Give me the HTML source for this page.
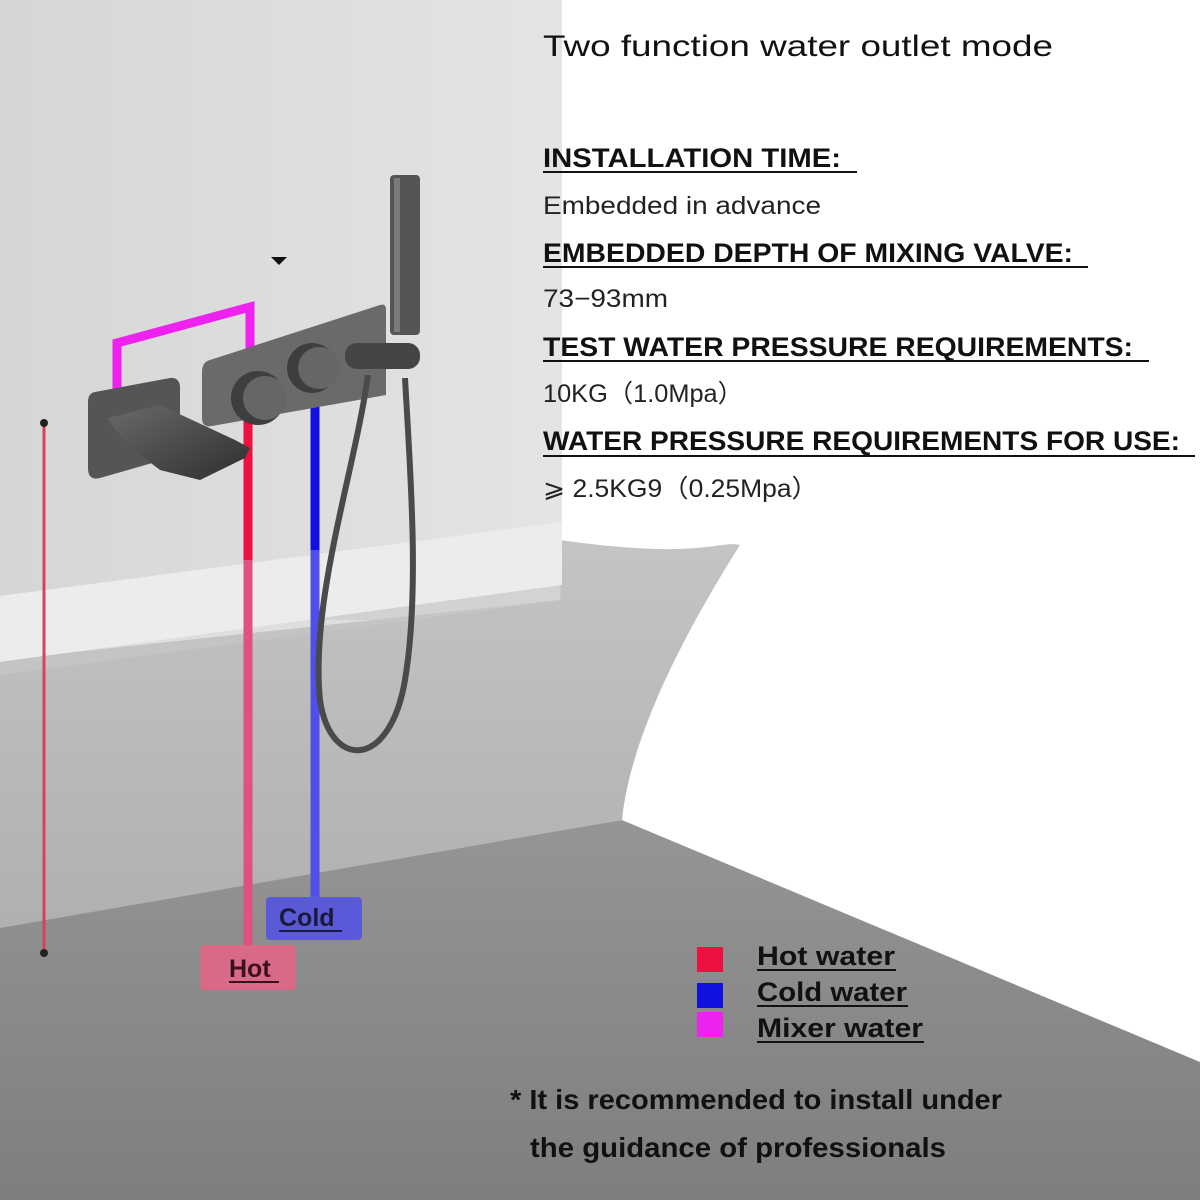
<!DOCTYPE html>
<html><head><meta charset="utf-8"><style>
html,body{margin:0;padding:0;width:1200px;height:1200px;overflow:hidden;background:#fff}
svg{display:block}
text{font-family:"Liberation Sans",Arial,sans-serif}
</style></head><body>
<svg width="1200" height="1200" viewBox="0 0 1200 1200" xmlns="http://www.w3.org/2000/svg">
<defs>
<linearGradient id="wall" x1="0" y1="0" x2="1" y2="0"><stop offset="0" stop-color="#d6d6d6"/><stop offset="1" stop-color="#e4e4e4"/></linearGradient>
<linearGradient id="face" x1="0" y1="0" x2="0" y2="1"><stop offset="0" stop-color="#c4c4c4"/><stop offset="1" stop-color="#b0b0b0"/></linearGradient>
<linearGradient id="floor" x1="0" y1="0" x2="0" y2="1"><stop offset="0" stop-color="#959595"/><stop offset="1" stop-color="#7e7e7e"/></linearGradient>
<linearGradient id="metal" x1="0" y1="0" x2="1" y2="1"><stop offset="0" stop-color="#6a6a6a"/><stop offset="1" stop-color="#2e2e2e"/></linearGradient>
</defs>
<rect width="1200" height="1200" fill="#fff"/>
<rect x="0" y="0" width="562" height="620" fill="url(#wall)"/>
<path d="M0,660 L560,600 L560,540 C700,560 720,540 740,545 C680,640 630,740 622,820 L0,930 Z" fill="url(#face)"/>
<path d="M0,596 L562,522 L562,585 L0,662 Z" fill="#ececec"/>
<path d="M0,662 L562,585 L562,600 L0,675 Z" fill="#c8c8c8" opacity="0.6"/>
<path d="M0,928 L622,820 L1200,1062 L1200,1200 L0,1200 Z" fill="url(#floor)"/>

<line x1="44" y1="423" x2="44" y2="953" stroke="#d84060" stroke-width="3"/>
<circle cx="44" cy="423" r="4" fill="#222"/><circle cx="44" cy="953" r="4" fill="#222"/>
<polygon points="271,257 287,257 279,265" fill="#111"/>

<path d="M117,390 L117,343 L250,307 L250,395" fill="none" stroke="#ee22ee" stroke-width="9"/>
<line x1="248" y1="420" x2="248" y2="560" stroke="#ee1040" stroke-width="9"/>
<line x1="248" y1="560" x2="248" y2="950" stroke="#e05080" stroke-width="9"/>
<line x1="315" y1="370" x2="315" y2="550" stroke="#1010e0" stroke-width="9"/>
<line x1="315" y1="550" x2="315" y2="900" stroke="#5050e8" stroke-width="9"/>

<path d="M210,360 L380,305 Q386,303 386,310 L386,395 L212,426 Q202,428 202,418 L202,372 Q202,362 210,360 Z" fill="#6a6a6a"/>
<circle cx="258" cy="398" r="27" fill="#3e3e3e"/><circle cx="265" cy="398" r="22" fill="#666"/>
<circle cx="312" cy="368" r="25" fill="#3e3e3e"/><circle cx="319" cy="368" r="21" fill="#666"/>
<path d="M95,392 L170,378 Q180,377 180,388 L180,455 L100,478 Q88,481 88,468 L88,402 Q88,393 95,392 Z" fill="#555"/>
<path d="M108,418 L160,405 L235,440 L250,448 L245,458 L200,480 L160,470 Q120,440 108,418 Z" fill="url(#metal)"/>
<rect x="390" y="175" width="30" height="160" rx="4" fill="#555"/>
<rect x="394" y="178" width="6" height="154" fill="#7a7a7a"/>
<rect x="345" y="343" width="75" height="26" rx="12" fill="#454545"/>
<path d="M368,375 C355,470 310,600 320,700 C330,770 390,770 405,680 C420,590 410,470 405,378" fill="none" stroke="#4a4a4a" stroke-width="6"/>

<rect x="266" y="897" width="96" height="43" rx="4" fill="#5a5ad8"/>
<text x="279" y="926" font-size="25" font-weight="bold" fill="#1a1a3a">Cold</text>
<line x1="279" y1="931" x2="342" y2="931" stroke="#1a1a3a" stroke-width="2"/>
<rect x="200" y="945" width="96" height="45" rx="4" fill="#d86a88"/>
<text x="229" y="977" font-size="25" font-weight="bold" fill="#3a1020">Hot</text>
<line x1="229" y1="982" x2="279" y2="982" stroke="#3a1020" stroke-width="2"/>

<text x="543" y="56" font-size="30" fill="#111" textLength="510" lengthAdjust="spacingAndGlyphs">Two function water outlet mode</text>
<g font-weight="bold" font-size="27" fill="#111">
<text x="543" y="167" textLength="298" lengthAdjust="spacingAndGlyphs">INSTALLATION TIME:</text>
<text x="543" y="262" textLength="530" lengthAdjust="spacingAndGlyphs">EMBEDDED DEPTH OF MIXING VALVE:</text>
<text x="543" y="356" textLength="590" lengthAdjust="spacingAndGlyphs">TEST WATER PRESSURE REQUIREMENTS:</text>
<text x="543" y="450" textLength="637" lengthAdjust="spacingAndGlyphs">WATER PRESSURE REQUIREMENTS FOR USE:</text>
</g>
<g stroke="#111" stroke-width="2">
<line x1="543" y1="172" x2="857" y2="172"/>
<line x1="543" y1="267" x2="1088" y2="267"/>
<line x1="543" y1="361" x2="1149" y2="361"/>
<line x1="543" y1="456" x2="1195" y2="456"/>
</g>
<g font-size="25" fill="#222">
<text x="543" y="214" textLength="278" lengthAdjust="spacingAndGlyphs">Embedded in advance</text>
<text x="543" y="307" textLength="125" lengthAdjust="spacingAndGlyphs">73−93mm</text>
<text x="543" y="402" textLength="200" lengthAdjust="spacingAndGlyphs">10KG（1.0Mpa）</text>
<text x="543" y="497" textLength="275" lengthAdjust="spacingAndGlyphs">⩾ 2.5KG9（0.25Mpa）</text>
</g>

<rect x="697" y="947" width="26" height="25" fill="#ee1040"/>
<rect x="697" y="983" width="26" height="25" fill="#1010e0"/>
<rect x="697" y="1012" width="26" height="25" fill="#ee22ee"/>
<g font-size="27" font-weight="bold" fill="#111">
<text x="757" y="965" textLength="138" lengthAdjust="spacingAndGlyphs">Hot water</text>
<text x="757" y="1001" textLength="150" lengthAdjust="spacingAndGlyphs">Cold water</text>
<text x="757" y="1037" textLength="166" lengthAdjust="spacingAndGlyphs">Mixer water</text>
</g>
<g stroke="#111" stroke-width="2">
<line x1="757" y1="970" x2="896" y2="970"/>
<line x1="757" y1="1006" x2="908" y2="1006"/>
<line x1="757" y1="1042" x2="924" y2="1042"/>
</g>
<g font-size="28" font-weight="bold" fill="#111">
<text x="510" y="1109" textLength="492" lengthAdjust="spacingAndGlyphs">* It is recommended to install under</text>
<text x="530" y="1157" textLength="416" lengthAdjust="spacingAndGlyphs">the guidance of professionals</text>
</g>
</svg>
</body></html>
